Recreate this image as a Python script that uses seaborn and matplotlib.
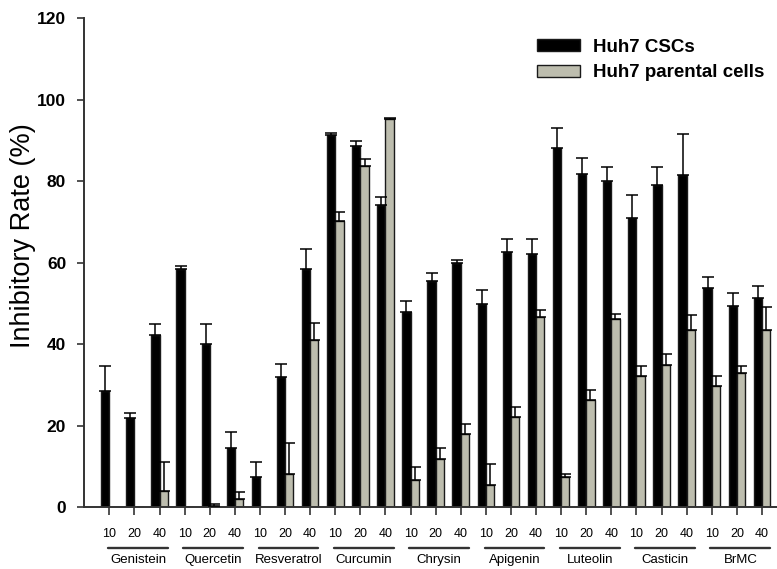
import numpy as np
import pandas as pd
import seaborn as sns
import matplotlib
matplotlib.use("Agg")
import matplotlib.pyplot as plt
from matplotlib.transforms import blended_transform_factory

compounds = ["Genistein", "Quercetin", "Resveratrol", "Curcumin", "Chrysin",
             "Apigenin", "Luteolin", "Casticin", "BrMC"]
doses = ["10", "20", "40"]
series = ["Huh7 CSCs", "Huh7 parental cells"]

csc_mean = [28.5, 21.9, 42.3, 58.4, 40.1, 14.6, 7.4, 31.9, 58.5,
            91.4, 88.7, 74.2, 48.0, 55.6, 60.0, 49.9, 62.6, 62.2,
            88.2, 81.9, 80.1, 71.1, 79.1, 81.6, 53.7, 49.4, 51.3]
csc_err = [6.2, 1.2, 2.8, 0.9, 4.8, 4.0, 3.7, 3.2, 4.9,
           0.5, 1.3, 2.0, 2.7, 2.0, 0.7, 3.5, 3.3, 3.7,
           4.9, 3.7, 3.3, 5.5, 4.3, 10.1, 2.9, 3.1, 3.1]
par_mean = [0.0, 0.0, 4.1, 0.0, 0.3, 2.0, 0.0, 8.1, 41.1,
            70.3, 83.8, 95.3, 6.7, 11.9, 18.0, 5.5, 22.2, 46.6,
            7.4, 26.3, 46.1, 32.1, 35.0, 43.5, 29.7, 33.0, 43.6]
par_err = [0.0, 0.0, 6.9, 0.0, 0.5, 1.8, 0.0, 7.7, 4.1,
           2.1, 1.6, 0.2, 3.3, 2.7, 2.4, 5.1, 2.5, 1.9,
           0.7, 2.4, 1.3, 2.6, 2.5, 3.7, 2.6, 1.7, 5.5]

pos_names = [f"{c} {d}" for c in compounds for d in doses]
df = pd.DataFrame({
    "pos": pos_names * 2,
    "series": [series[0]] * len(pos_names) + [series[1]] * len(pos_names),
    "value": csc_mean + par_mean,
})

sns.set_theme(style="ticks")
plt.rcParams["font.family"] = ["Liberation Sans", "DejaVu Sans"]
plt.rcParams["text.color"] = "black"

fig = plt.figure(figsize=(7.77, 5.69), dpi=100)
ax = fig.add_axes([84.3 / 777, 61.7 / 569, (777 - 84.3) / 777, 489.0 / 569])

black = "#000000"
gray = "#bdbdae"
sns.barplot(data=df, x="pos", y="value", hue="series", order=pos_names,
            hue_order=series, palette=[black, gray], width=0.66,
            errorbar=None, edgecolor="#1a1a1a", linewidth=1.0, saturation=1,
            ax=ax)

for cont, means, errs in zip(ax.containers[:2], [csc_mean, par_mean], [csc_err, par_err]):
    xs, ms, es = [], [], []
    for p, m, e in zip(cont.patches, means, errs):
        if m == 0 and e == 0:
            continue
        xs.append(p.get_x() + p.get_width() / 2)
        ms.append(m)
        es.append(e)
    ax.errorbar(xs, ms, yerr=[np.zeros(len(es)), es], fmt="none", ecolor="black",
                elinewidth=1.1, capsize=4.3, capthick=1.1, zorder=3)

ax.set_ylim(0, 120)
ax.set_xlim(-1.0, 26.6)
ax.set_yticks([0, 20, 40, 60, 80, 100, 120])
ax.set_yticklabels(["0", "20", "40", "60", "80", "100", "120"],
                   fontsize=12.5, fontweight="bold")
ax.set_xticks(range(len(pos_names)))
ax.set_xticklabels(doses * len(compounds), fontsize=9)
ax.tick_params(axis="y", length=5, width=1.2, pad=8, colors="#333333", labelcolor="black")
ax.tick_params(axis="x", length=5.8, width=1.2, pad=9, colors="#333333", labelcolor="black")
ax.set_xlabel("")
ax.set_ylabel("")
fig.text(23 / 777, 1 - 236 / 569, "Inhibitory Rate (%)", rotation=90,
         ha="center", va="center", fontsize=19.5, color="black")
for s in ["top", "right"]:
    ax.spines[s].set_visible(False)
for s in ["left", "bottom"]:
    ax.spines[s].set_color("#333333")
    ax.spines[s].set_linewidth(1.4)

trans = blended_transform_factory(ax.transData, ax.transAxes)
for i, c in enumerate(compounds):
    x0 = 3 * i - 0.05
    x1 = 3 * i + 2.33
    ax.plot([x0, x1], [-0.083, -0.083], color="#333333", lw=1.7,
            transform=trans, clip_on=False)
    ax.text((x0 + x1) / 2, -0.108, c, transform=trans, ha="center", va="center",
            fontsize=9.5, color="black")

handles, labels = ax.get_legend_handles_labels()
ax.legend(handles, labels, loc="upper left", bbox_to_anchor=(537 / 777, 1 - 39 / 569),
          bbox_transform=fig.transFigure, frameon=False, borderpad=0, borderaxespad=0,
          handlelength=2.3, handleheight=0.62, handletextpad=0.7, labelspacing=0.45,
          prop={"weight": "bold", "size": 13.5}, labelcolor="black")

fig.savefig("out.png", dpi=100)
